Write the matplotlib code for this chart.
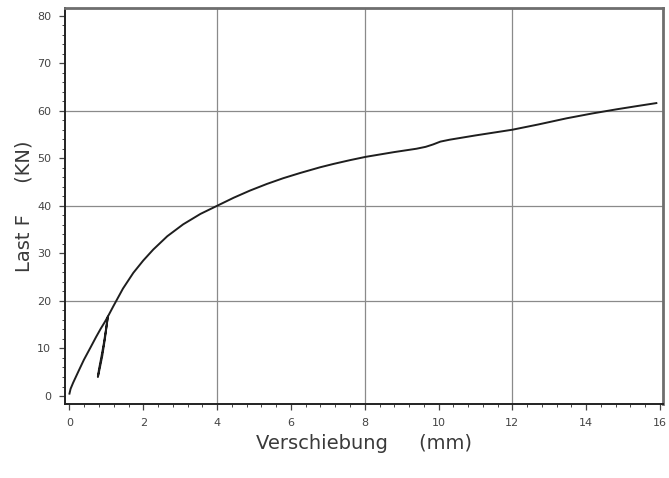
import numpy as np
import matplotlib
matplotlib.use("Agg")
import matplotlib.pyplot as plt
from matplotlib.ticker import MultipleLocator

# === Daten: Last-Verschiebungs-Kurve ===
verschiebung = [0.0, 0.03, 0.10, 0.25, 0.39, 0.57, 0.72, 0.85, 0.96, 1.04,
                0.96, 0.89, 0.82, 0.77,
                0.80, 0.86, 0.93, 0.99, 1.04,
                1.19, 1.45, 1.73, 2.00, 2.27, 2.65, 3.08, 3.55, 4.00,
                4.45, 4.89, 5.35, 5.79, 6.25, 6.79, 7.15, 7.60, 8.03,
                8.80, 9.40, 9.65, 9.85, 10.05, 10.30, 11.00, 12.00, 12.70,
                13.47, 14.15, 14.83, 15.40, 15.90]
last = [0.5, 1.5, 2.8, 5.3, 7.6, 10.2, 12.4, 14.2, 15.6, 16.7,
        12.0, 8.5, 5.8, 4.0,
        5.6, 8.0, 11.0, 14.0, 16.7,
        18.9, 22.6, 25.9, 28.5, 30.8, 33.6, 36.1, 38.3, 40.0,
        41.7, 43.2, 44.6, 45.8, 46.9, 48.1, 48.8, 49.6, 50.3,
        51.3, 52.0, 52.4, 52.9, 53.5, 53.9, 54.8, 56.0, 57.1,
        58.4, 59.4, 60.3, 61.0, 61.6]

x_ticks = [0, 2, 4, 6, 8, 10, 12, 14, 16]
y_ticks = [0, 10, 20, 30, 40, 50, 60, 70, 80]
x_grid = [4, 8, 12]
y_grid = [20, 40, 60]

fig = plt.figure(figsize=(6.69, 4.78), dpi=100)
ax = fig.add_axes([0.0972, 0.1548, 0.8938, 0.8285])

# Gitterlinien
for gx in x_grid:
    ax.axvline(gx, color="#8a8a8a", lw=0.9, zorder=1)
for gy in y_grid:
    ax.axhline(gy, color="#8a8a8a", lw=0.9, zorder=1)

ax.plot(verschiebung, last, color="#1e1e1e", lw=1.4, zorder=3,
        solid_joinstyle="round")

ax.set_xlim(-0.12, 16.08)
ax.set_ylim(-1.68, 81.6)
ax.set_xticks(x_ticks)
ax.set_yticks(y_ticks)
ax.xaxis.set_minor_locator(MultipleLocator(0.4))
ax.yaxis.set_minor_locator(MultipleLocator(2))

ax.tick_params(axis="both", which="major", direction="out", length=4,
               width=0.9, colors="#444444", labelsize=8, pad=6)
ax.tick_params(axis="both", which="minor", direction="out", length=2.5,
               width=0.7, colors="#444444")

for s in ["left", "bottom"]:
    ax.spines[s].set_color("#222222")
    ax.spines[s].set_linewidth(1.4)
for s in ["top", "right"]:
    ax.spines[s].set_color("#6e6e6e")
    ax.spines[s].set_linewidth(2.0)

ax.set_xlabel("Verschiebung     (mm)", fontsize=14, color="#3a3a3a")
ax.set_ylabel("Last F     (KN)", fontsize=14, color="#3a3a3a")
ax.xaxis.set_label_coords(0.5, -0.075)
ax.yaxis.set_label_coords(-0.052, 0.5)

fig.savefig("out.png", dpi=100)
